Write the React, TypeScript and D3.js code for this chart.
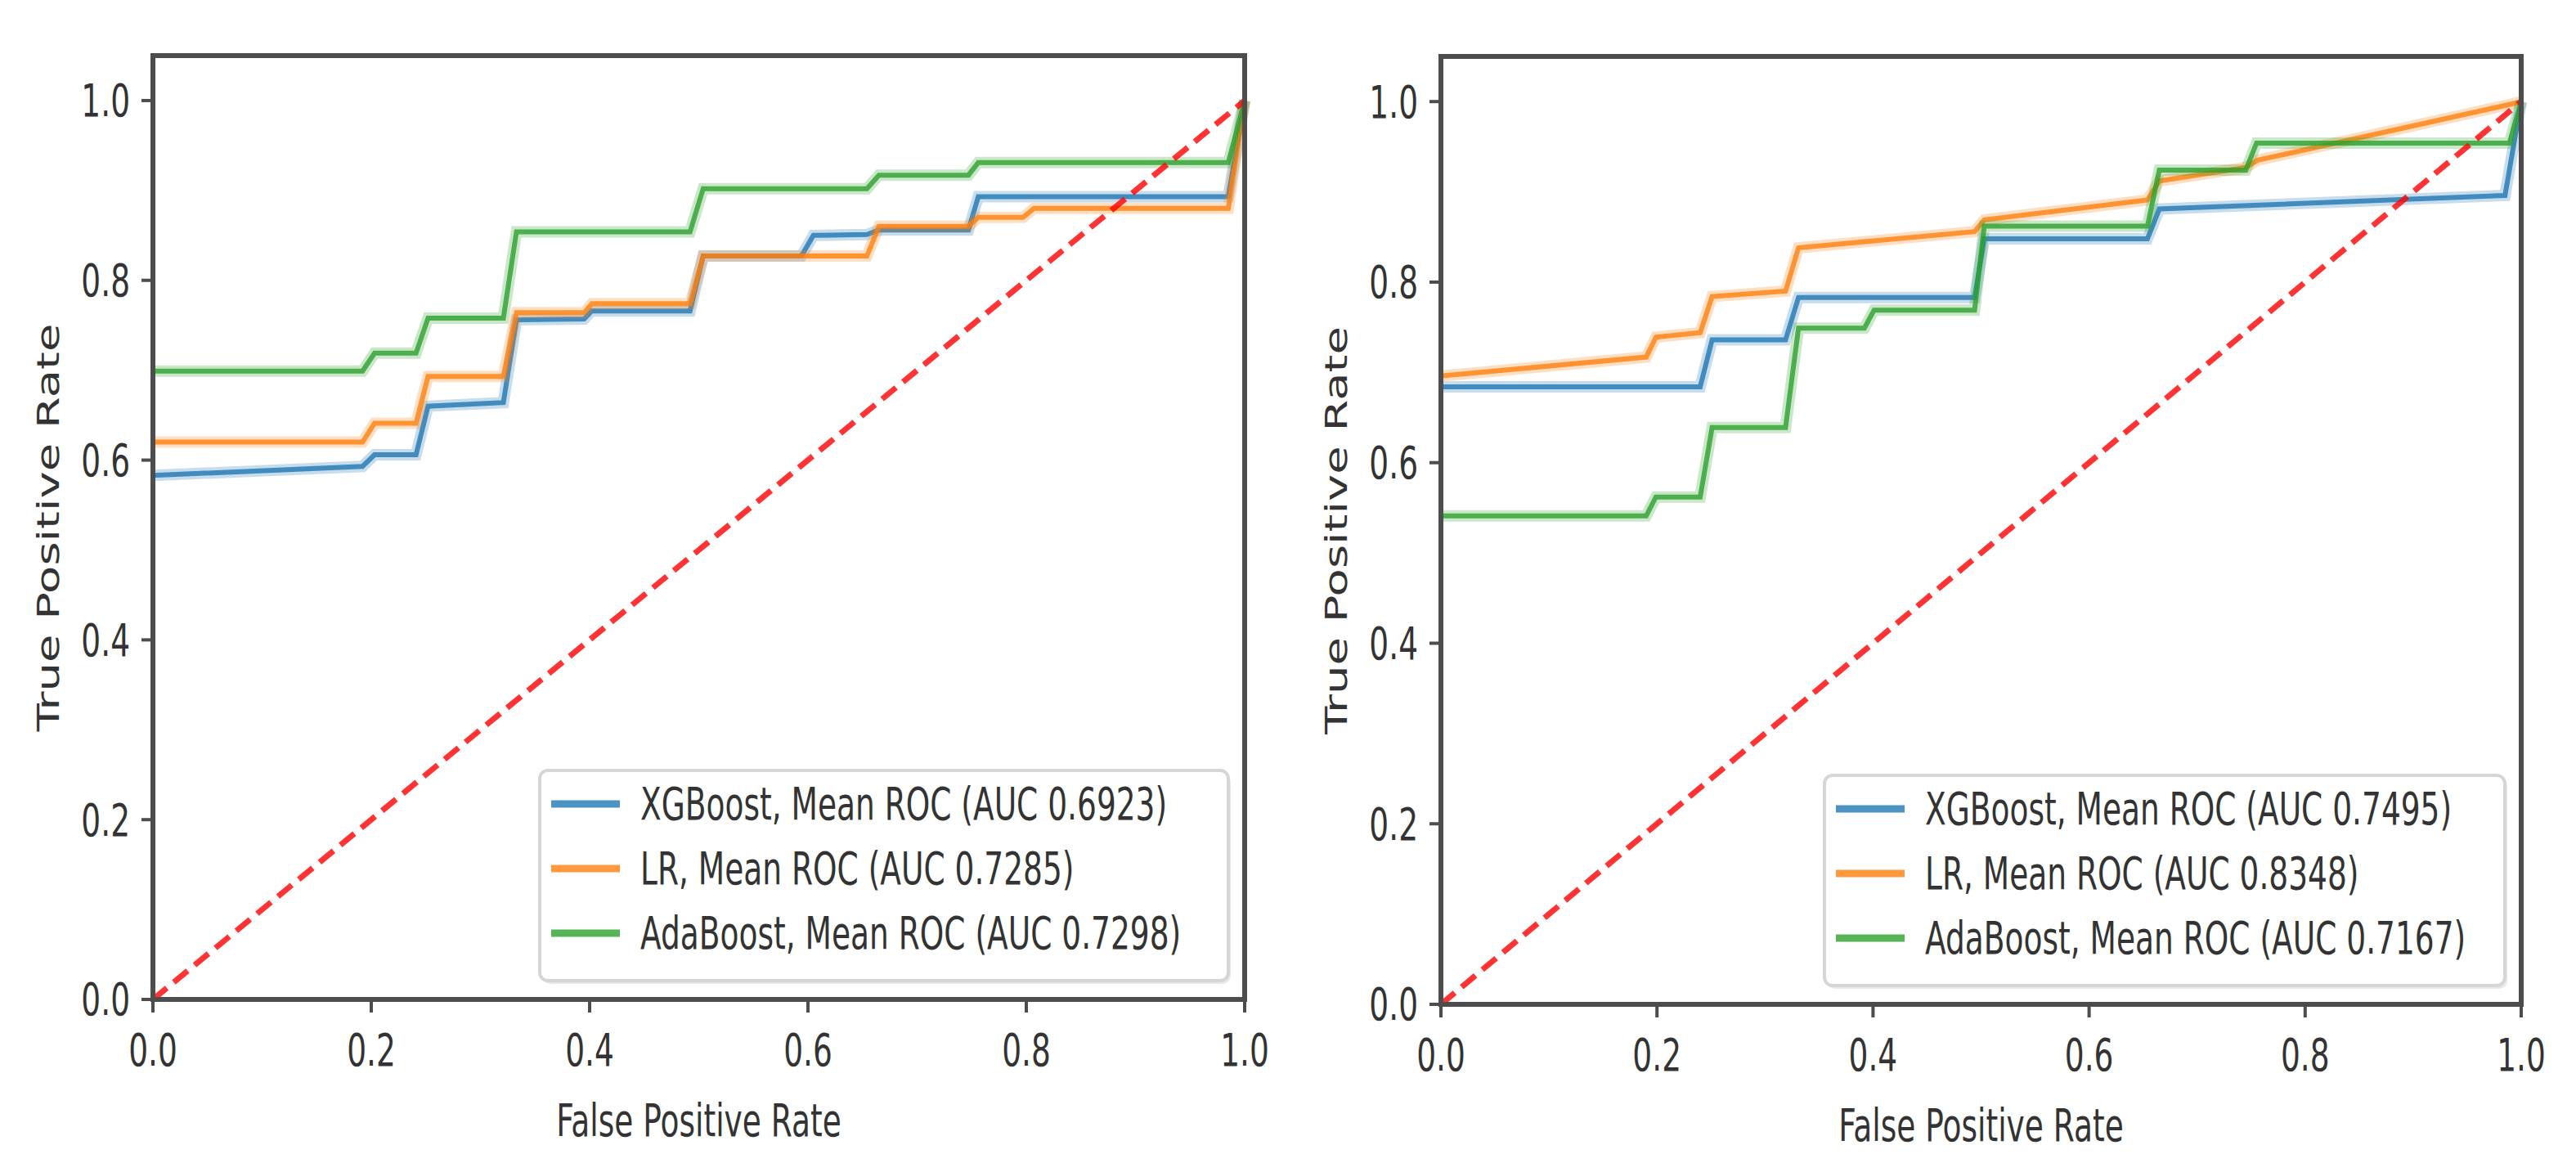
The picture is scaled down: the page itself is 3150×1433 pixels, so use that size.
import * as d3 from 'd3';

// mean ROC points [fpr, tpr]
const xgbLeft: [number, number][] = [
  [0, 0.583], [0.192, 0.593], [0.203, 0.606], [0.241, 0.606], [0.252, 0.66], [0.321, 0.664],
  [0.333, 0.756], [0.395, 0.757], [0.402, 0.766], [0.492, 0.766], [0.504, 0.827], [0.594, 0.827],
  [0.605, 0.85], [0.654, 0.851], [0.665, 0.856], [0.747, 0.856], [0.756, 0.893], [0.985, 0.893], [1, 1],
];
const lrLeft: [number, number][] = [
  [0, 0.62], [0.192, 0.62], [0.203, 0.641], [0.241, 0.641], [0.252, 0.693], [0.321, 0.693],
  [0.333, 0.764], [0.395, 0.764], [0.402, 0.774], [0.492, 0.774], [0.504, 0.827], [0.654, 0.827],
  [0.665, 0.86], [0.747, 0.86], [0.756, 0.87], [0.797, 0.87], [0.807, 0.88], [0.985, 0.88], [1, 1],
];
const adaLeft: [number, number][] = [
  [0, 0.699], [0.192, 0.699], [0.203, 0.719], [0.241, 0.719], [0.252, 0.758], [0.321, 0.758],
  [0.333, 0.854], [0.492, 0.854], [0.504, 0.902], [0.654, 0.902], [0.665, 0.917], [0.747, 0.917],
  [0.756, 0.931], [0.985, 0.931], [1, 1],
];

const xgbRight: [number, number][] = [
  [0, 0.684], [0.24, 0.684], [0.251, 0.736], [0.319, 0.736], [0.331, 0.783], [0.494, 0.783],
  [0.503, 0.848], [0.654, 0.848], [0.665, 0.881], [0.985, 0.896], [1, 1],
];
const lrRight: [number, number][] = [
  [0, 0.696], [0.19, 0.717], [0.199, 0.739], [0.24, 0.744], [0.251, 0.784], [0.319, 0.79],
  [0.331, 0.838], [0.494, 0.856], [0.503, 0.869], [0.654, 0.891], [0.665, 0.912], [0.745, 0.927],
  [0.756, 0.935], [0.99, 0.997], [1, 1],
];
const adaRight: [number, number][] = [
  [0, 0.541], [0.19, 0.541], [0.199, 0.562], [0.24, 0.562], [0.251, 0.639], [0.319, 0.639],
  [0.331, 0.749], [0.392, 0.749], [0.401, 0.769], [0.494, 0.769], [0.503, 0.862], [0.654, 0.862],
  [0.665, 0.924], [0.745, 0.924], [0.755, 0.954], [0.989, 0.954], [1, 1],
];

const modelNames = ['XGBoost', 'LR', 'AdaBoost'];
const modelColors = ['#1f77b4', '#ff7f0e', '#2ca02c'];
const aucLeft = ['0.6923', '0.7285', '0.7298'];
const aucRight = ['0.7495', '0.8348', '0.7167'];
const ticks = [0, 0.2, 0.4, 0.6, 0.8, 1.0];

const FONT = 56;
const SX = 0.67; // the picture is squeezed sideways
const TEXT = '#333';

interface PanelProps {
  x0: number; x1: number; top: number; bottom: number;
  curves: [number, number][][];
  auc: string[];
  legendW: number;
}

function T({ x, y, anchor = 'start', children }: { x: number; y: number; anchor?: string; children: any }) {
  return (
    <text
      transform={`translate(${x},${y}) scale(${SX},1)`}
      textAnchor={anchor}
      dominantBaseline="central"
      fontFamily="DejaVu Sans"
      fontSize={FONT}
      fill={TEXT}
    >
      {children}
    </text>
  );
}

function Panel({ x0, x1, top, bottom, curves, auc, legendW }: PanelProps) {
  const x = d3.scaleLinear().domain([0, 1]).range([x0, x1]);
  const y = d3.scaleLinear().domain([0, 1.05]).range([bottom, top]);
  const line = d3.line<[number, number]>().x(d => x(d[0])).y(d => y(d[1]));

  const legH = 257;
  const lx = x1 - 20 - legendW;
  const ly = bottom - 23 - legH;

  return (
    <g>
      {curves.map((c, i) => (
        <g key={i}>
          <path d={line(c) || ''} fill="none" stroke={modelColors[i]} strokeOpacity={0.25} strokeWidth={14} />
          <path d={line(c) || ''} fill="none" stroke={modelColors[i]} strokeOpacity={0.8} strokeWidth={6} />
        </g>
      ))}
      <path
        d={line([[0, 0], [1, 1]]) || ''}
        fill="none"
        stroke="#ff0000"
        strokeOpacity={0.8}
        strokeWidth={7}
        strokeDasharray="22 11"
      />

      {/* spines */}
      <rect x={x0} y={top} width={x1 - x0} height={bottom - top} fill="none" stroke="#4d4d4d" strokeWidth={6} />

      {ticks.map(t => (
        <g key={'y' + t}>
          <line x1={x0 - 14} x2={x0} y1={y(t)} y2={y(t)} stroke="#4d4d4d" strokeWidth={4} />
          <T x={x0 - 28} y={y(t)} anchor="end">{t.toFixed(1)}</T>
        </g>
      ))}
      {ticks.map(t => (
        <g key={'x' + t}>
          <line x1={x(t)} x2={x(t)} y1={bottom} y2={bottom + 16} stroke="#4d4d4d" strokeWidth={4} />
          <T x={x(t)} y={bottom + 62} anchor="middle">{t.toFixed(1)}</T>
        </g>
      ))}

      <T x={(x0 + x1) / 2} y={bottom + 148} anchor="middle">False Positive Rate</T>
      <text
        transform={`translate(${x0 - 128},${(top + bottom) / 2}) rotate(-90) scale(1,${SX})`}
        textAnchor="middle"
        dominantBaseline="central"
        fontFamily="DejaVu Sans"
        fontSize={FONT}
        fill={TEXT}
      >
        True Positive Rate
      </text>

      {/* legend */}
      <rect x={lx + 3} y={ly + 4} width={legendW} height={legH} rx={10} fill="#e8e8e8" />
      <rect x={lx} y={ly} width={legendW} height={legH} rx={10} fill="#ffffff" stroke="#d6d6d6" strokeWidth={4} />
      {modelNames.map((m, i) => {
        const ry = ly + 41 + i * 79;
        return (
          <g key={m}>
            <line x1={lx + 14} x2={lx + 98} y1={ry} y2={ry} stroke={modelColors[i]} strokeOpacity={0.8} strokeWidth={9} />
            <T x={lx + 123} y={ry}>{`${m}, Mean ROC (AUC ${auc[i]})`}</T>
          </g>
        );
      })}
    </g>
  );
}

export default function App() {
  return (
    <div style={{ position: 'absolute', left: 0, top: 0 }}>
      <svg width={3150} height={1433} style={{ display: 'block', background: '#fff' }}>
        <Panel x0={187} x1={1522} top={68} bottom={1222} curves={[xgbLeft, lrLeft, adaLeft]} auc={aucLeft} legendW={842} />
        <Panel x0={1762} x1={3083} top={69} bottom={1228} curves={[xgbRight, lrRight, adaRight]} auc={aucRight} legendW={832} />
      </svg>
    </div>
  );
}
